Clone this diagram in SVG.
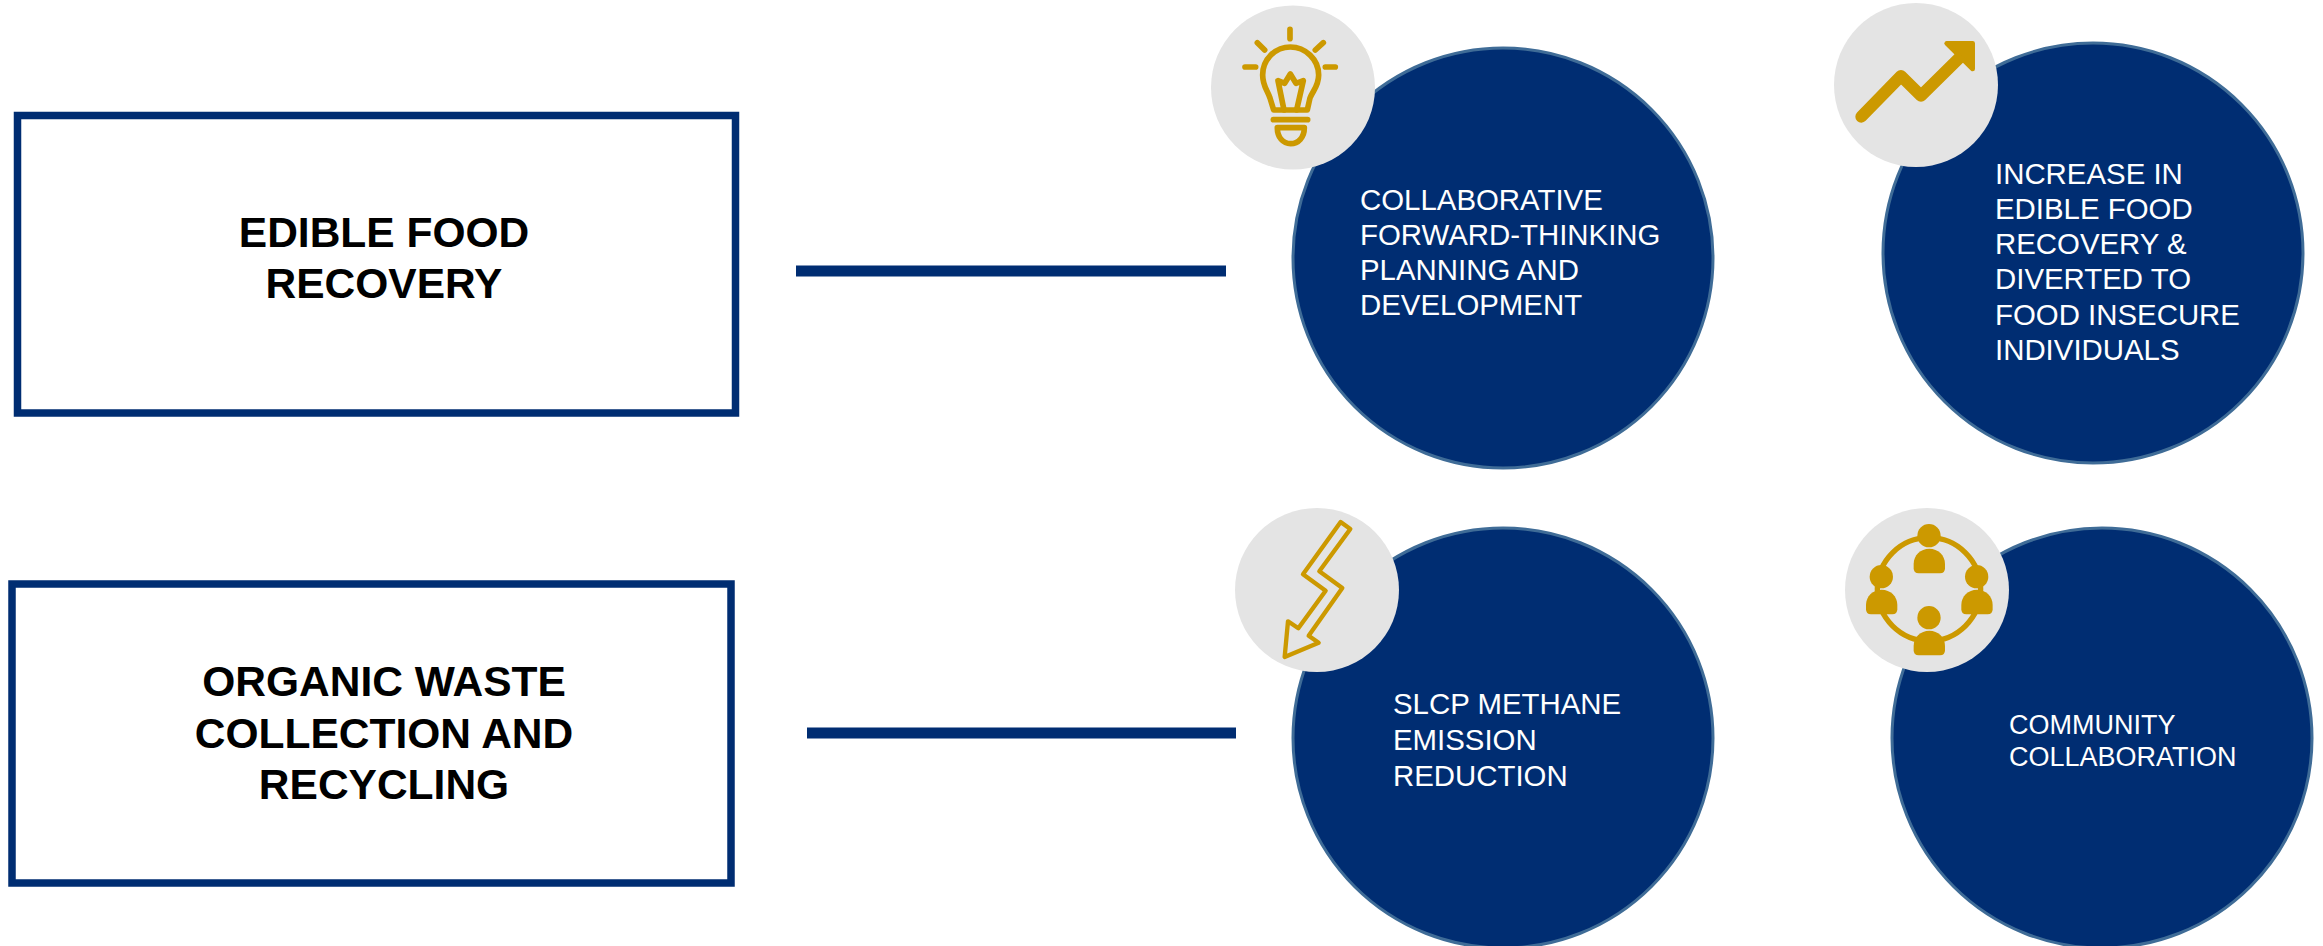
<svg xmlns="http://www.w3.org/2000/svg" width="2323" height="946" viewBox="0 0 2323 946">
<style>
text{font-family:"Liberation Sans",Arial,sans-serif}
.box{fill:#fff;stroke:#002d72;stroke-width:7.500}
.title{font-size:42.500px;font-weight:700;fill:#000;text-anchor:middle}
.big{fill:#002d72;stroke:#3f6c97;stroke-width:3}
.lab{font-size:29.400px;fill:#fff}
.lab2{font-size:27px;fill:#fff}
.gray{fill:#e4e4e4}
.line{stroke:#002d72;stroke-width:11;fill:none}
.ol{fill:none;stroke:#cc9900;stroke-width:17;stroke-linecap:round;stroke-linejoin:round}
.thin{stroke-width:13}
.fl{fill:#cc9900}
</style>
<rect width="2323" height="946" fill="#fff"/>
<g id="connectors">
<line class="line" x1="796" y1="271" x2="1226" y2="271"/>
<line class="line" x1="807" y1="733" x2="1236" y2="733"/>
</g>
<g id="box-edible"><rect class="box" x="17.500" y="115.500" width="718" height="297.500"/>
<text class="title" x="384" y="247">EDIBLE FOOD</text><text class="title" x="384" y="298">RECOVERY</text></g>
<g id="box-organic"><rect class="box" x="12" y="584" width="719" height="299"/>
<text class="title" x="384" y="696">ORGANIC WASTE</text><text class="title" x="384" y="748">COLLECTION AND</text><text class="title" x="384" y="799">RECYCLING</text></g>
<g id="node-planning"><circle class="big" cx="1503" cy="258" r="210"/><circle class="gray" cx="1293" cy="87.500" r="82"/>
<g transform="translate(1190 0) scale(.3333)">
<path class="ol" d="M300 88V116M202 128L224 150M400 128L376 150M165 201H197M406 201H436"/>
<path class="ol" d="M251 330L240 294C232 270 218 258 218 225C218 178 256 141 301 141C346 141 386 178 386 225C386 258 370 270 360 294L352 330Z"/>
<path class="ol" d="M282 330L264 242L284 250L301 222L318 250L340 242L320 330"/>
<path class="ol" d="M250 359H353"/>
<path class="ol" d="M262 383H343C343 412 325 431 302 431C279 431 262 412 262 383Z"/>
</g>
<text class="lab"><tspan x="1360" y="210">COLLABORATIVE</tspan><tspan x="1360" y="245">FORWARD-THINKING</tspan><tspan x="1360" y="280">PLANNING AND</tspan><tspan x="1360" y="315">DEVELOPMENT</tspan></text></g>
<g id="node-increase"><circle class="big" cx="2093" cy="253" r="210"/><circle class="gray" cx="1916" cy="85" r="82"/>
<g transform="translate(1820 0) scale(.3333)">
<path d="M124 350L243 228L303 287L430 162" fill="none" stroke="#cc9900" stroke-width="36" stroke-linecap="round" stroke-linejoin="round"/>
<path class="fl" stroke="#cc9900" stroke-width="14" stroke-linejoin="round" d="M380 130H458V207Z"/>
</g>
<text class="lab"><tspan x="1995" y="184">INCREASE IN</tspan><tspan x="1995" y="219">EDIBLE FOOD</tspan><tspan x="1995" y="254">RECOVERY &amp;</tspan><tspan x="1995" y="289">DIVERTED TO</tspan><tspan x="1995" y="325">FOOD INSECURE</tspan><tspan x="1995" y="360">INDIVIDUALS</tspan></text></g>
<g id="node-slcp"><circle class="big" cx="1503" cy="738" r="210"/><circle class="gray" cx="1317" cy="590" r="82"/>
<g transform="translate(1220 500) scale(.3333)">
<path class="ol thin" d="M362 66L391 87L298 214L367 264L266 407L296 428L194 471L204 364L235 385L317 272L249 223Z"/>
</g>
<text class="lab"><tspan x="1393" y="714">SLCP METHANE</tspan><tspan x="1393" y="750">EMISSION</tspan><tspan x="1393" y="786">REDUCTION</tspan></text></g>
<g id="node-community"><circle class="big" cx="2102" cy="738" r="210"/><circle class="gray" cx="1927" cy="590" r="82"/>
<g transform="translate(1830 500) scale(.3333)">
<circle cx="297" cy="268" r="155" fill="none" stroke="#cc9900" stroke-width="16"/>
<g id="p"><circle class="fl" cx="297" cy="107" r="35"/><path class="fl" d="M251 205V192C251 165 272 146 298 146C324 146 345 165 345 192V205Q345 220 330 220H266Q251 220 251 205Z"/></g>
<use href="#p" x="-143" y="123"/><use href="#p" x="143" y="123"/><use href="#p" y="246"/>
</g>
<text class="lab2"><tspan x="2009" y="734">COMMUNITY</tspan><tspan x="2009" y="766">COLLABORATION</tspan></text></g>
</svg>
